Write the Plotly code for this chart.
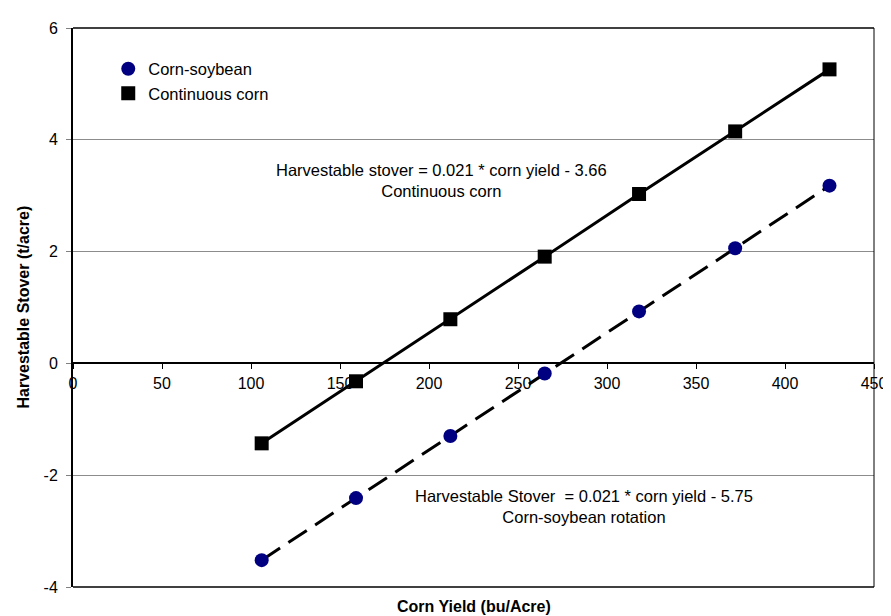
import plotly.graph_objects as go

# Data
corn_yield = [106, 159, 212, 265, 318, 372, 425]
stover_corn_soybean = [-3.52, -2.41, -1.30, -0.18, 0.93, 2.06, 3.18]
stover_continuous = [-1.43, -0.32, 0.79, 1.91, 3.03, 4.15, 5.26]

series_names = ["Corn-soybean", "Continuous corn"]
x_ticks = [0, 50, 100, 150, 200, 250, 300, 350, 400, 450]
y_ticks = [-4, -2, 0, 2, 4, 6]

FONT = "Arial, Liberation Sans, sans-serif"
NAVY = "#000080"

fig = go.Figure()

# Lines (trend lines)
fig.add_trace(go.Scatter(x=corn_yield, y=stover_corn_soybean, mode="lines",
                         line=dict(color="black", width=3, dash="22px,10px"),
                         showlegend=False, hoverinfo="skip"))
fig.add_trace(go.Scatter(x=corn_yield, y=stover_continuous, mode="lines",
                         line=dict(color="black", width=3),
                         showlegend=False, hoverinfo="skip"))
# Markers
fig.add_trace(go.Scatter(x=corn_yield, y=stover_corn_soybean, mode="markers",
                         name=series_names[0],
                         marker=dict(symbol="circle", size=14, color=NAVY)))
fig.add_trace(go.Scatter(x=corn_yield, y=stover_continuous, mode="markers",
                         name=series_names[1],
                         marker=dict(symbol="square", size=14, color="black")))

fig.update_layout(
    width=891, height=616,
    margin=dict(l=65, r=19, t=17, b=37),
    paper_bgcolor="white", plot_bgcolor="white",
    font=dict(family=FONT, size=16, color="black"),
    showlegend=True,
    legend=dict(x=0.044, y=0.958, xanchor="left", yanchor="top",
                bgcolor="rgba(0,0,0,0)", font=dict(size=16.5, family=FONT),
                itemwidth=30, tracegroupgap=0),
    xaxis=dict(range=[0, 450], tickvals=x_ticks, ticktext=[str(v) for v in x_ticks],
               showgrid=False, zeroline=False, showline=True, linecolor="black",
               linewidth=2, ticks="outside", ticklen=5, tickcolor="black",
               anchor="free", position=0.4, tickfont=dict(size=16)),
    yaxis=dict(range=[-4, 6], tickvals=y_ticks, ticktext=[str(v) for v in y_ticks],
               showgrid=True, gridcolor="#8c8c8c", gridwidth=1,
               zeroline=False, showline=True, linecolor="black", linewidth=2,
               ticks="outside", ticklen=5, tickcolor="#808080",
               ticklabelstandoff=5,
               domain=[0, 1], tickfont=dict(size=16)),
    shapes=[
        dict(type="line", xref="paper", yref="paper", x0=0, x1=1, y0=1, y1=1,
             line=dict(color="#404040", width=2)),
        dict(type="line", xref="paper", yref="paper", x0=0, x1=1, y0=0, y1=0,
             line=dict(color="#404040", width=2)),
        dict(type="line", xref="paper", yref="paper", x0=1, x1=1, y0=0, y1=1,
             line=dict(color="black", width=1)),
    ],
    annotations=[
        dict(text="<b>Corn Yield (bu/Acre)</b>", xref="paper", yref="paper",
             x=0.5, y=0, xanchor="center", yanchor="top", yshift=-9,
             showarrow=False, font=dict(size=16, family=FONT)),
        dict(text="<b>Harvestable Stover (t/acre)</b>", xref="paper", yref="paper",
             x=0, y=0.5, xanchor="center", yanchor="middle", xshift=-50,
             textangle=-90, showarrow=False, font=dict(size=16, family=FONT)),
        dict(text="Harvestable stover = 0.021 * corn yield - 3.66<br>Continuous corn",
             xref="x", yref="y", x=207, y=3.27, xanchor="center", yanchor="middle",
             showarrow=False, align="center", font=dict(size=16.5, family=FONT)),
        dict(text="Harvestable Stover  = 0.021 * corn yield - 5.75<br>Corn-soybean rotation",
             xref="x", yref="y", x=287, y=-2.56, xanchor="center", yanchor="middle",
             showarrow=False, align="center", font=dict(size=16.5, family=FONT)),
    ],
)

fig.write_html("out.html")
